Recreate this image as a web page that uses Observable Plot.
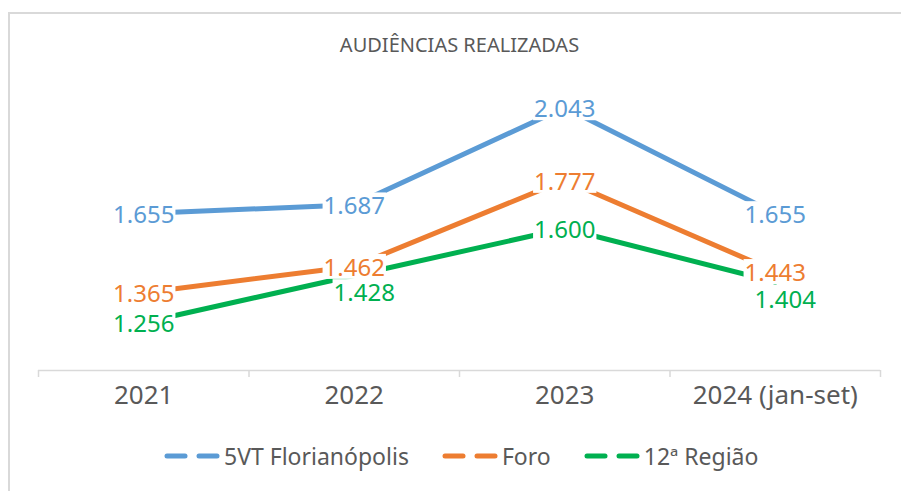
<!DOCTYPE html>
<html>
<head>
<meta charset="utf-8">
<script src="https://cdn.jsdelivr.net/npm/d3@7"></script>
<script src="https://cdn.jsdelivr.net/npm/@observablehq/plot@0.6"></script>
<style>
  body { margin: 0; background: #fff; font-family: "Noto Sans", sans-serif; color: #595959; overflow: hidden; }
  #frame { position: absolute; left: 8px; top: 12px; width: 1000px; height: 600px; border-top: 2px solid #d9d9d9; border-left: 2px solid #d9d9d9; }
  #wrap { position: absolute; left: 0; top: 0; width: 901px; }
  #title { height: 70px; position: relative; }
  #title div { position: absolute; top: 33px; width: 100%; text-align: center; font-size: 20px; line-height: 24px; padding-left: 18px; box-sizing: border-box; }
  #legend { position: relative; height: 32px; }
  #legend .items { position: absolute; left: 164px; top: 0; height: 32px; display: flex; align-items: center; }
  #legend .item { display: flex; align-items: center; margin-right: 33px; font-size: 23px; }
  #legend svg { margin-right: 4px; }
</style>
</head>
<body>
<div id="frame"></div>
<div id="wrap">
  <div id="title"><div>AUDIÊNCIAS REALIZADAS</div></div>
  <div id="chart"></div>
  <div id="legend"><div class="items"></div></div>
</div>
<script>
const years = ["2021", "2022", "2023", "2024 (jan-set)"];
const seriesNames = ["5VT Florianópolis", "Foro", "12ª Região"];
const floripa = [1655, 1687, 2043, 1655];
const foro = [1365, 1462, 1777, 1443];
const regiao = [1256, 1428, 1600, 1404];
const colors = ["#5B9BD5", "#ED7D31", "#00B050"];

const seriesValues = [floripa, foro, regiao];
const rows = [];
seriesValues.forEach((vals, s) => {
  vals.forEach((v, i) => rows.push({ series: seriesNames[s], i, x: i + 0.5, value: v }));
});
const fmt = v => d3.format(".3f")(v / 1000);
// labels of 12ª Região in 2022 and 2024 sit below their points
const isBelow = d => d.series === seriesNames[2] && (d.i === 1 || d.i === 3);

const chart = Plot.plot({
  width: 901,
  height: 370,
  marginLeft: 38,
  marginRight: 21,
  marginTop: 10,
  marginBottom: 70,
  style: { fontFamily: "Noto Sans, sans-serif", background: "transparent", overflow: "visible" },
  x: { type: "linear", domain: [0, 4], axis: null },
  y: { domain: [1080, 2142], axis: null },
  color: { domain: seriesNames, range: colors },
  marks: [
    Plot.ruleY([1080], { stroke: "#d9d9d9", strokeWidth: 1.5 }),
    Plot.axisX({ ticks: [0, 1, 2, 3, 4], tickSize: 7, tickFormat: () => "", label: null, stroke: "#d9d9d9", strokeWidth: 1.5 }),
    Plot.text(years, { x: (d, i) => i + 0.5, frameAnchor: "bottom", dy: 33, text: d => d, fontSize: 26, fill: "#595959" }),
    Plot.line(rows, { x: "x", y: "value", z: "series", stroke: "series", strokeWidth: 5 }),
    Plot.text(rows.filter(d => !isBelow(d)), { x: "x", y: "value", text: d => fmt(d.value), fill: "series", fontSize: 24, dy: 2 }),
    Plot.text(rows.filter(isBelow), { x: "x", y: "value", text: d => fmt(d.value), fill: "series", fontSize: 24, dx: 10, dy: 18 })
  ]
});
document.getElementById("chart").appendChild(chart);

// white boxes behind the data labels (like Excel label backgrounds)
const svgns = "http://www.w3.org/2000/svg";
const textGroups = Array.from(chart.querySelectorAll('g[aria-label="text"]'));
const labelGroups = textGroups.slice(1); // first text mark = category labels
if (labelGroups.length) {
  const bg = document.createElementNS(svgns, "g");
  labelGroups[0].parentNode.insertBefore(bg, labelGroups[0]);
  labelGroups.forEach(g => {
    const gt = g.getAttribute("transform") || "";
    g.querySelectorAll("text").forEach(t => {
      const b = t.getBBox();
      const r = document.createElementNS(svgns, "rect");
      r.setAttribute("x", b.x - 1);
      r.setAttribute("y", b.y + 4);
      r.setAttribute("width", b.width + 2);
      r.setAttribute("height", Math.max(0, b.height - 8));
      r.setAttribute("fill", "white");
      r.setAttribute("transform", (gt + " " + (t.getAttribute("transform") || "")).trim());
      bg.appendChild(r);
    });
  });
}

const items = document.querySelector("#legend .items");
seriesNames.forEach((name, s) => {
  const item = document.createElement("div");
  item.className = "item";
  item.innerHTML = `<svg width="56" height="10"><line x1="3" x2="21" y1="5" y2="5" stroke="${colors[s]}" stroke-width="5" stroke-linecap="round"/><line x1="35" x2="53" y1="5" y2="5" stroke="${colors[s]}" stroke-width="5" stroke-linecap="round"/></svg><span>${name}</span>`;
  items.appendChild(item);
});
</script>
</body>
</html>
